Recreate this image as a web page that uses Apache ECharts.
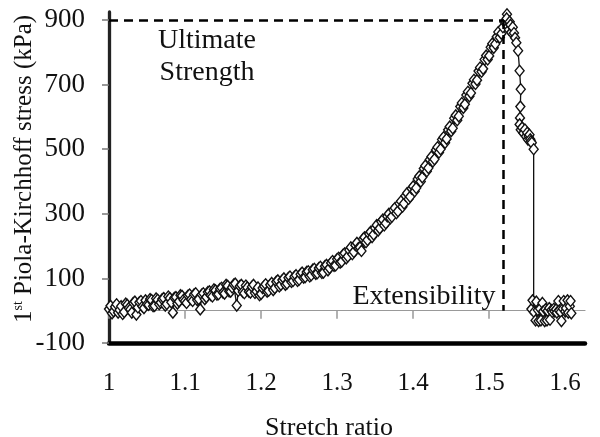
<!DOCTYPE html>
<html>
<head>
<meta charset="utf-8">
<script src="https://cdn.jsdelivr.net/npm/echarts@6/dist/echarts.min.js"></script>
<style>
html,body{margin:0;padding:0;background:#fff;}
#chart{width:600px;height:437px;}
</style>
</head>
<body>
<div id="chart"></div>
<script>
// Loading phase, first set of readings: stretch ratio and stress (kPa)
const stretchA = [
1.000,1.004,1.008,1.012,1.016,1.020,1.024,1.028,1.032,1.036,
1.040,1.044,1.048,1.052,1.056,1.060,1.064,1.068,1.072,1.076,
1.080,1.084,1.088,1.092,1.096,1.100,1.104,1.108,1.112,1.116,
1.120,1.124,1.128,1.132,1.136,1.140,1.144,1.148,1.152,1.156,
1.160,1.164,1.168,1.172,1.176,1.180,1.184,1.188,1.192,1.196,
1.200,1.204,1.208,1.212,1.216,1.220,1.224,1.228,1.232,1.236,
1.240,1.244,1.248,1.252,1.256,1.260,1.264,1.268,1.272,1.276,
1.280,1.284,1.288,1.292,1.296,1.300,1.304,1.308,1.312,1.316,
1.320,1.324,1.328,1.332,1.336,1.340,1.344,1.348,1.352,1.356,
1.360,1.364,1.368,1.372,1.376,1.380,1.384,1.388,1.392,1.396,
1.400,1.404,1.408,1.412,1.416,1.420,1.424,1.428,1.432,1.436,
1.440,1.444,1.448,1.452,1.456,1.460,1.464,1.468,1.472,1.476,
1.480,1.484,1.488,1.492,1.496,1.500,1.504,1.508,1.512,1.516,
1.520
];
const stressA = [
5,-8,12,-6,14,-4,18,4,24,-12,
26,13,32,18,33,15,34,25,39,21,
39,-6,42,29,46,30,47,35,51,33,
4,54,42,60,44,63,51,71,53,77,
59,81,16,76,58,78,59,74,55,72,
52,76,59,80,64,90,75,95,80,102,
89,106,92,113,102,120,106,127,114,132,
117,138,125,148,139,160,149,174,162,188,
175,203,194,185,227,219,244,236,265,255,
282,271,300,291,318,308,339,332,364,353,
385,380,416,413,449,442,477,469,506,500,
537,532,570,565,605,602,643,639,678,674,
715,714,753,749,790,789,827,826,863,858,
894
];
// Loading phase, second set of readings (in between the first set)
const stretchB = [
1.002,1.006,1.010,1.014,1.018,1.022,1.026,1.030,1.034,1.038,
1.042,1.046,1.050,1.054,1.058,1.062,1.066,1.070,1.074,1.078,
1.082,1.086,1.090,1.094,1.098,1.102,1.106,1.110,1.114,1.118,
1.122,1.126,1.130,1.134,1.138,1.142,1.146,1.150,1.154,1.158,
1.162,1.166,1.170,1.174,1.178,1.182,1.186,1.190,1.194,1.198,
1.202,1.206,1.210,1.214,1.218,1.222,1.226,1.230,1.234,1.238,
1.242,1.246,1.250,1.254,1.258,1.262,1.266,1.270,1.274,1.278,
1.282,1.286,1.290,1.294,1.298,1.302,1.306,1.310,1.314,1.318,
1.322,1.326,1.330,1.334,1.338,1.342,1.346,1.350,1.354,1.358,
1.362,1.366,1.370,1.374,1.378,1.382,1.386,1.390,1.394,1.398,
1.402,1.406,1.410,1.414,1.418,1.422,1.426,1.430,1.434,1.438,
1.442,1.446,1.450,1.454,1.458,1.462,1.466,1.470,1.474,1.478,
1.482,1.486,1.490,1.494,1.498,1.502,1.506,1.510,1.514,1.518
];
const stressB = [
15,-2,20,2,-10,22,8,-6,28,10,
30,8,20,36,14,38,20,36,16,44,
26,40,22,48,34,24,50,30,54,36,
50,36,58,48,66,50,68,56,80,60,
72,84,62,80,54,72,56,80,60,48,
70,82,62,86,70,94,80,100,84,106,
92,110,96,118,104,122,110,130,116,136,
118,142,132,154,140,164,152,178,168,196,
182,210,196,222,212,238,228,256,248,276,
264,292,286,312,302,332,322,356,346,378,
370,408,400,440,432,468,462,498,490,530,
520,560,556,596,590,632,628,668,664,704,
702,742,740,778,778,816,814,848,846,878
];
// Peak, failure and post-rupture readings
const failureStretch = [
1.5234,1.5215,1.525,1.523,1.527,1.526,1.529,1.528,1.531,1.5326,
1.534,1.5357,1.538,1.540,1.5415,1.541,1.5405,1.540,1.5415,1.5433,
1.545,1.547,1.5485,1.550,1.551,1.552,1.553,1.554,1.555,1.556,
1.5585,1.5585,
1.5555,1.557,1.559,1.561,1.562,1.564,1.565,1.567,1.568,1.570,
1.571,1.573,1.574,1.576,1.577,1.579,1.580,1.582,1.583,1.585,
1.586,1.588,1.589,1.591,1.592,1.594,1.595,1.597,1.598,1.600,
1.601,1.603,1.604,1.606,1.607,1.608
];
const failureStress = [
918,895,880,905,895,870,862,885,878,860,
845,830,805,743,686,632,597,577,560,567,
550,561,540,551,530,541,545,531,525,520,
500,0,
5,32,-4,-30,28,2,-32,6,-30,24,
-2,-32,4,-30,0,8,-28,2,-4,6,
-2,4,-6,30,0,-4,-32,6,30,-2,
8,32,-6,14,30,-8
];
const xTickLabels = [1, 1.1, 1.2, 1.3, 1.4, 1.5, 1.6];
const yTickLabels = [-100, 100, 300, 500, 700, 900];
const ultimateStretch = 1.519;
const ultimateStress = 900;

// interleave the two loading sets in order of stretch, then append the failure part
const points = [];
for (let i = 0; i < stretchA.length; i++) {
  points.push([stretchA[i], stressA[i]]);
  if (i < stretchB.length) points.push([stretchB[i], stressB[i]]);
}
for (let i = 0; i < failureStretch.length; i++) points.push([failureStretch[i], failureStress[i]]);

const serif = 'Liberation Serif, Times New Roman, serif';

const chart = echarts.init(document.getElementById('chart'), null, {renderer: 'canvas'});
chart.setOption({
  animation: false,
  backgroundColor: '#fff',
  grid: {left: 109, right: 15, top: 12, bottom: 94, containLabel: false},
  xAxis: [{
    type: 'value', position: 'bottom', min: 1, max: 1.626,
    axisLine: {onZero: false, lineStyle: {color: '#000', width: 4.5}},
    axisTick: {show: false},
    splitLine: {show: false},
    axisLabel: {customValues: xTickLabels, margin: 28, fontFamily: serif, fontSize: 25, color: '#111',
      formatter: v => String(Math.round(v * 10) / 10)}
  }, {
    type: 'value', position: 'bottom', min: 1, max: 1.626,
    axisLine: {onZero: true, lineStyle: {color: '#999', width: 1.2}},
    axisTick: {show: true, customValues: xTickLabels, length: 8, lineStyle: {color: '#999', width: 1.5}},
    axisLabel: {show: false},
    splitLine: {show: false}
  }],
  yAxis: {
    type: 'value', min: -100, max: 925,
    axisLine: {show: true, onZero: false, lineStyle: {color: '#222', width: 3.3}},
    axisTick: {show: true, customValues: yTickLabels, length: 7, lineStyle: {color: '#777', width: 1.5}},
    splitLine: {show: false},
    axisLabel: {customValues: yTickLabels, margin: 24, fontFamily: serif, fontSize: 27, color: '#111'}
  },
  series: [{
    type: 'line',
    xAxisIndex: 0,
    data: points,
    symbol: 'diamond',
    symbolSize: [9, 11],
    showAllSymbol: true,
    lineStyle: {color: '#111', width: 1.3},
    itemStyle: {color: '#fff', borderColor: '#111', borderWidth: 1.4},
    z: 3,
    markLine: {
      silent: true,
      symbol: 'none',
      label: {show: false},
      lineStyle: {color: '#000', width: 2.5, type: [9, 6]},
      data: [
        [{coord: [1, ultimateStress]}, {coord: [ultimateStretch, ultimateStress]}],
        [{coord: [ultimateStretch, ultimateStress]}, {coord: [ultimateStretch, 0]}]
      ]
    }
  }],
  graphic: [
    {type: 'text', x: 207, y: 57, style: {text: 'Ultimate\nStrength', font: '28px ' + serif,
      fill: '#111', textAlign: 'center', textVerticalAlign: 'middle', lineHeight: 32}},
    {type: 'text', x: 424, y: 297, style: {text: 'Extensibility', font: '28px ' + serif,
      fill: '#111', textAlign: 'center', textVerticalAlign: 'middle'}},
    {type: 'text', x: 329, y: 428, style: {text: 'Stretch ratio', font: '26px ' + serif,
      fill: '#111', textAlign: 'center', textVerticalAlign: 'middle'}},
    {type: 'text', x: 24, y: 169, rotation: Math.PI / 2, style: {
      text: '1{sup|st} Piola-Kirchhoff stress (kPa)', font: '25px ' + serif,
      fill: '#111', textAlign: 'center', textVerticalAlign: 'middle',
      rich: {sup: {fontSize: 14, fontFamily: serif, verticalAlign: 'top', lineHeight: 25}}}}
  ]
});
</script>
</body>
</html>
